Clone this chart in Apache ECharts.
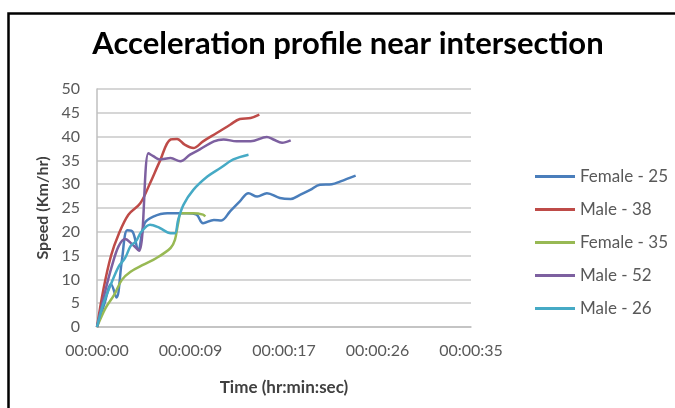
<!DOCTYPE html>
<html>
<head>
<meta charset="utf-8">
<script src="https://cdn.jsdelivr.net/npm/echarts@6/dist/echarts.min.js"></script>
<style>
html,body{margin:0;padding:0;background:#fff;}
#chart{width:675px;height:408px;}
</style>
</head>
<body>
<div id="chart"></div>
<script>
// ---- Data (time in seconds, speed in Km/hr) ----
const seriesNames = ["Female - 25", "Male - 38", "Female - 35", "Male - 52", "Male - 26"];

const timeFemale25  = [0, 0.7, 1.3, 1.8, 2.3, 2.8, 3.3, 3.8, 4.4, 5.2, 6.5, 8.3, 9.2, 9.8, 10.8, 11.5, 12.3, 13.2, 14.0, 14.8, 15.7, 16.9, 17.9, 18.8, 19.7, 20.6, 21.7, 22.5, 23.9];
const speedFemale25 = [0, 5, 9, 6.2, 14, 20.3, 20, 16.2, 21.8, 23.2, 23.9, 23.9, 23.6, 21.8, 22.5, 22.4, 24.3, 26.4, 28.1, 27.4, 28.1, 27.1, 26.9, 27.8, 28.8, 29.9, 30.0, 30.6, 31.8];

const timeMale38  = [0, 0.6, 1.3, 2.0, 2.9, 4.0, 4.9, 5.8, 6.8, 7.4, 8.1, 8.9, 9.8, 11.1, 12.3, 13.2, 14.2, 15.0];
const speedMale38 = [0, 8, 15, 19.5, 23.6, 26, 30.2, 34.8, 39.4, 39.5, 38.3, 37.6, 39, 40.8, 42.5, 43.7, 43.9, 44.6];

const timeFemale35  = [0, 0.8, 1.6, 2.3, 3.1, 4.3, 5.5, 6.8, 7.2, 7.5, 7.8, 8.9, 9.8, 10.0];
const speedFemale35 = [0, 4, 6.8, 9.9, 11.6, 13.1, 14.5, 16.6, 18.3, 21.8, 23.9, 23.9, 23.6, 23.2];

const timeMale52  = [0, 0.7, 1.4, 2.0, 2.6, 3.2, 3.9, 4.75, 5.2, 5.8, 6.8, 7.7, 8.6, 9.5, 10.8, 11.7, 12.9, 14.2, 15.7, 16.3, 17.1, 17.9];
const speedMale52 = [0, 7, 13, 17, 18.5, 17.5, 16, 36.5, 35.9, 35.2, 35.5, 34.8, 36.2, 37.3, 39, 39.4, 39, 39, 39.9, 39.4, 38.7, 39.2];

const timeMale26  = [0, 0.6, 1.2, 2.0, 2.6, 3.1, 3.6, 4.1, 4.9, 5.8, 6.8, 7.2, 7.5, 8.0, 8.9, 10.2, 11.4, 12.6, 14.0];
const speedMale26 = [0, 5, 8.5, 12.7, 14.5, 17, 18, 20, 21.5, 20.8, 19.7, 19.7, 22.5, 25.7, 28.8, 31.6, 33.4, 35.2, 36.2];

// x-axis: Excel time axis, major unit 0.0001 day = 8.64 s
const xMin = 0, xMax = 34.56, xStep = 8.64;
const yMin = 0, yMax = 50, yStep = 5;

const colors = ["#4A7EBB", "#BE4B48", "#98B954", "#7D60A0", "#46AAC5"];
const times  = [timeFemale25, timeMale38, timeFemale35, timeMale52, timeMale26];
const speeds = [speedFemale25, speedMale38, speedFemale35, speedMale52, speedMale26];

function fmtTime(sec){
  const s = Math.round(sec);
  const hh = Math.floor(s/3600), mm = Math.floor((s%3600)/60), ss = s%60;
  const p = n => String(n).padStart(2,'0');
  return p(hh)+":"+p(mm)+":"+p(ss);
}

const FONT = "Lato";
const chart = echarts.init(document.getElementById('chart'), null, {renderer:'canvas'});
chart.setOption({
  backgroundColor: '#ffffff',
  animation: false,
  color: colors,
  title: {
    text: "Acceleration profile near intersection",
    left: 343, top: 23, textAlign: 'center',
    textStyle: {fontFamily: FONT, fontWeight: 'bold', fontSize: 31, color: '#000'}
  },
  legend: {
    orient: 'vertical', left: 530, top: 163,
    itemWidth: 40, itemHeight: 3, itemGap: 16,
    icon: 'rect',
    data: seriesNames,
    textStyle: {fontFamily: FONT, fontSize: 17, color: '#595959'}
  },
  grid: {left: 97, top: 89, width: 374, height: 238, containLabel: false},
  xAxis: {
    type: 'value', min: xMin, max: xMax, interval: xStep,
    name: "Time (hr:min:sec)", nameLocation: 'middle', nameGap: 52,
    nameTextStyle: {fontFamily: FONT, fontWeight: 'bold', fontSize: 17, color: '#404040'},
    axisLine: {show: true, lineStyle: {color: '#bfbfbf', width: 1.5}},
    axisTick: {show: false},
    splitLine: {show: false},
    axisLabel: {fontFamily: FONT, fontSize: 16, color: '#595959', margin: 16, formatter: v => fmtTime(v)}
  },
  yAxis: {
    type: 'value', min: yMin, max: yMax, interval: yStep,
    name: "Speed (Km/hr)", nameLocation: 'middle', nameGap: 44,
    nameTextStyle: {fontFamily: FONT, fontWeight: 'bold', fontSize: 16, color: '#404040'},
    axisLine: {show: true, lineStyle: {color: '#bfbfbf', width: 1.5}},
    axisTick: {show: false},
    splitLine: {show: true, lineStyle: {color: '#c8c8c8', width: 1.5}},
    axisLabel: {fontFamily: FONT, fontSize: 16, color: '#595959', margin: 17}
  },
  graphic: [{
    type: 'rect', left: 6, top: 11, z: 100,
    shape: {width: 720, height: 440},
    style: {fill: 'none', stroke: '#000', lineWidth: 2.5}
  }],
  series: seriesNames.map((name, i) => ({
    name: name, type: 'line', smooth: 0.35, showSymbol: false, symbol: 'none',
    lineStyle: {width: 2.5, color: colors[i]},
    data: times[i].map((t, k) => [t, speeds[i][k]])
  }))
});
</script>
</body>
</html>
